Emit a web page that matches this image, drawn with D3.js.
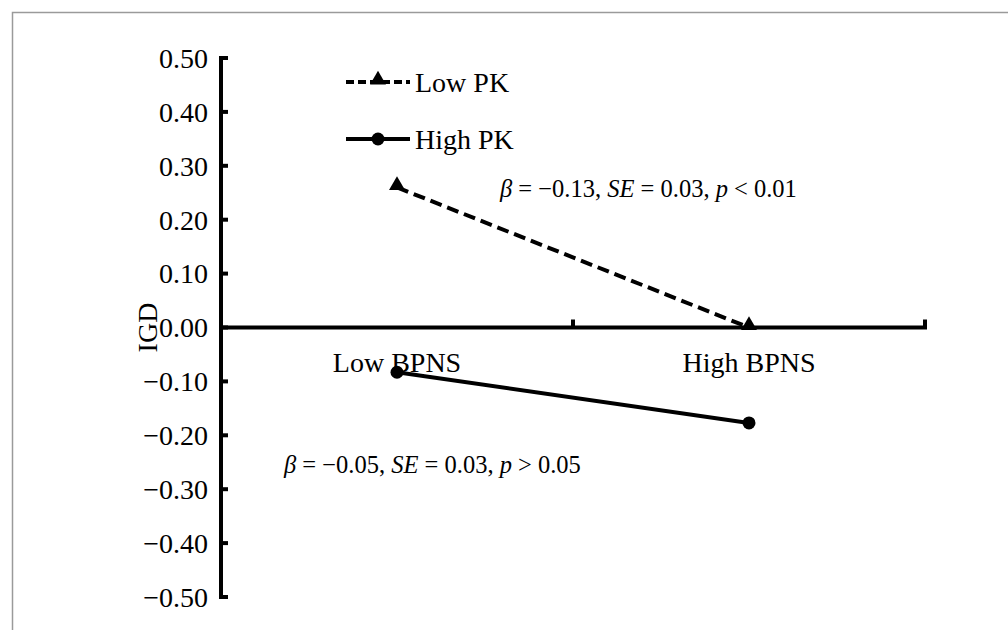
<!DOCTYPE html>
<html><head><meta charset="utf-8">
<script src="https://cdn.jsdelivr.net/npm/d3@7"></script>
<style>body{margin:0;background:#fff}svg{display:block}
svg text{font-family:"Liberation Serif","DejaVu Serif",serif;fill:#000}</style>
</head><body>
<svg id="c" width="1008" height="630"></svg>
<script>
const categories = ["Low BPNS", "High BPNS"];
const seriesNames = ["Low PK", "High PK"];
const lowPK = [0.26, 0.00];
const highPK = [-0.083, -0.177];
const yTicks = [0.5,0.4,0.3,0.2,0.1,0,-0.1,-0.2,-0.3,-0.4,-0.5];
const annotations = [
  {series:"Low PK", beta:"\u22120.13", se:"0.03", op:"<", p:"0.01"},
  {series:"High PK", beta:"\u22120.05", se:"0.03", op:">", p:"0.05"}
];

const svg = d3.select("#c");
const FS = 28;
// frame
svg.append("path").attr("d","M12.5,630 V12.5 H1008").attr("fill","none").attr("stroke","#9a9a9a").attr("stroke-width",1.5);

const x = d3.scaleBand().domain(categories).range([221, 925]);
const y = d3.scaleLinear().domain([-0.5,0.5]).range([597, 58]);
const xc = c => x(c) + x.bandwidth()/2;

// y axis
const ya = svg.append("g").attr("transform","translate(221,0)");
ya.append("line").attr("y1",y(0.5)-2).attr("y2",y(-0.5)+2).attr("stroke","#000").attr("stroke-width",4);
ya.selectAll("line.t").data(yTicks).join("line").attr("class","t")
  .attr("x1",0).attr("x2",7).attr("y1",d=>y(d)).attr("y2",d=>y(d)).attr("stroke","#000").attr("stroke-width",4);
ya.selectAll("text").data(yTicks).join("text")
  .attr("x",-13).attr("y",d=>y(d)).attr("dy","0.35em").attr("text-anchor","end")
  .attr("font-size",FS)
  .text(d=> (d<0?"\u2212":"") + Math.abs(d).toFixed(2));
svg.append("text").attr("transform",`translate(157,${y(0)}) rotate(-90)`).attr("text-anchor","middle")
  .attr("font-size",FS).text("IGD");

// x axis at 0
const xa = svg.append("g");
xa.append("line").attr("x1",219).attr("x2",927).attr("y1",y(0)).attr("y2",y(0)).attr("stroke","#000").attr("stroke-width",4);
const bounds = [x(categories[1]), x(categories[1]) + x.bandwidth()];
xa.selectAll("line.t").data(bounds).join("line").attr("class","t")
  .attr("x1",d=>d).attr("x2",d=>d).attr("y1",y(0)).attr("y2",y(0)-8).attr("stroke","#000").attr("stroke-width",4);
xa.selectAll("text").data(categories).join("text")
  .attr("x",d=>xc(d)).attr("y",y(0)+44).attr("text-anchor","middle")
  .attr("font-size",FS).text(d=>d);

const line = d3.line().x((d,i)=>xc(categories[i])).y(d=>y(d));
const tri = d3.symbol().type(d3.symbolTriangle).size(110);

// Low PK dashed
svg.append("path").attr("d",line(lowPK)).attr("fill","none").attr("stroke","#000").attr("stroke-width",4).attr("stroke-dasharray","12,6");
svg.selectAll("path.tri").data(lowPK).join("path").attr("class","tri")
  .attr("d",tri).attr("transform",(d,i)=>`translate(${xc(categories[i])},${y(d)-2})`).attr("fill","#000");
// High PK solid
svg.append("path").attr("d",line(highPK)).attr("fill","none").attr("stroke","#000").attr("stroke-width",4);
svg.selectAll("circle.pt").data(highPK).join("circle").attr("class","pt")
  .attr("cx",(d,i)=>xc(categories[i])).attr("cy",d=>y(d)).attr("r",6.5).attr("fill","#000");

// legend
const lg = svg.append("g");
const ly = [82, 139];
lg.append("line").attr("x1",346).attr("x2",410).attr("y1",ly[0]).attr("y2",ly[0]).attr("stroke","#000").attr("stroke-width",4).attr("stroke-dasharray","8,4");
lg.append("path").attr("d",tri).attr("transform",`translate(378,${ly[0]-2})`);
lg.append("line").attr("x1",346).attr("x2",410).attr("y1",ly[1]).attr("y2",ly[1]).attr("stroke","#000").attr("stroke-width",4);
lg.append("circle").attr("cx",378).attr("cy",ly[1]).attr("r",6.5);
lg.selectAll("text").data(seriesNames).join("text").attr("x",415).attr("y",(d,i)=>ly[i]).attr("dy","0.35em")
  .attr("font-size",FS).text(d=>d);

// annotations
const annPos = [[500,197],[284,473]];
annotations.forEach((a,i)=>{
  const t = svg.append("text").attr("x",annPos[i][0]).attr("y",annPos[i][1]).attr("font-size",24.5);
  t.append("tspan").attr("font-style","italic").text("\u03b2");
  t.append("tspan").text(" = " + a.beta + ", ");
  t.append("tspan").attr("font-style","italic").text("SE");
  t.append("tspan").text(" = " + a.se + ", ");
  t.append("tspan").attr("font-style","italic").text("p");
  t.append("tspan").text(" " + a.op + " " + a.p);
});
</script>
</body></html>
